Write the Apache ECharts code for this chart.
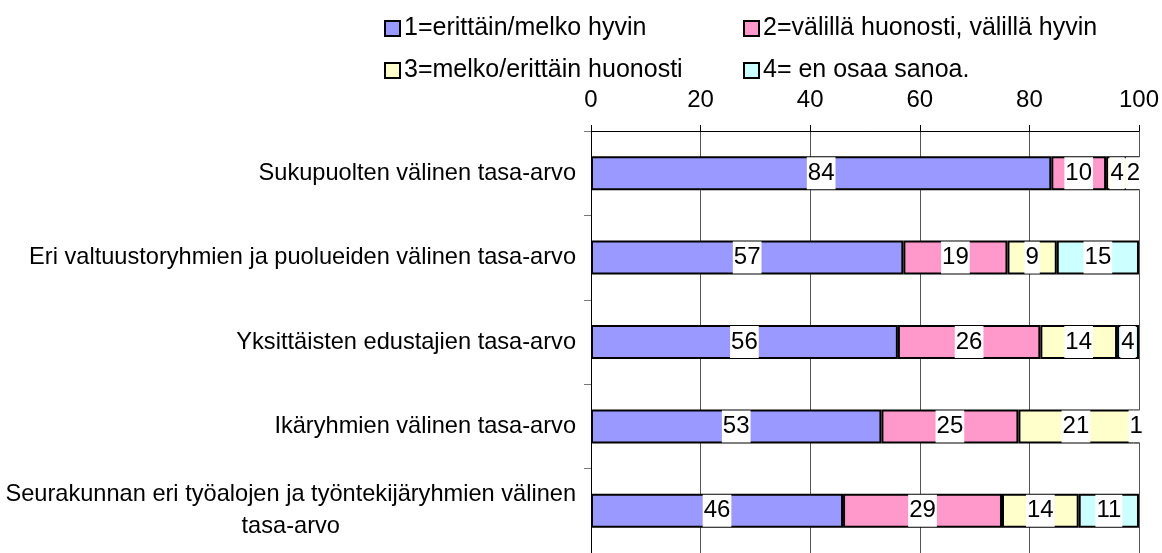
<!DOCTYPE html>
<html>
<head>
<meta charset="utf-8">
<script src="https://cdn.jsdelivr.net/npm/echarts@6/dist/echarts.min.js"></script>
<style>
  html, body { margin: 0; padding: 0; background: #fff; }
  #chart { width: 1162px; height: 553px; }
</style>
</head>
<body>
<div id="chart"></div>
<script>
const categories = [
  'Sukupuolten välinen tasa-arvo',
  'Eri valtuustoryhmien ja puolueiden välinen tasa-arvo',
  'Yksittäisten edustajien tasa-arvo',
  'Ikäryhmien välinen tasa-arvo',
  'Seurakunnan eri työalojen ja työntekijäryhmien välinen\ntasa-arvo'
]
const seriesNames = [
  '1=erittäin/melko hyvin',
  '2=välillä huonosti, välillä hyvin',
  '3=melko/erittäin huonosti',
  '4= en osaa sanoa.'
]
const good = [84, 57, 56, 53, 46]
const mixed = [10, 19, 26, 25, 29]
const bad = [4, 9, 14, 21, 14]
const dontKnow = [2, 15, 4, 1, 11]
const xMin = 0
const xMax = 100
const xStep = 20

const colors = ['#9999FF', '#FF99CC', '#FFFFCC', '#CCFFFF']
const font = '"Liberation Sans", Arial, Helvetica, sans-serif'
const values = [good, mixed, bad, dontKnow]

// legend placed as a 2x2 block, one legend per item
const legendPos = [[384, 16], [743, 16], [384, 58], [743, 58]]

let chart = echarts.init(document.getElementById('chart'))
chart.setOption({
  animation: false,
  textStyle: { fontFamily: font },
  legend: seriesNames.map((name, i) => ({
    data: [name],
    left: legendPos[i][0],
    top: legendPos[i][1],
    padding: 0,
    icon: 'rect',
    itemWidth: 15,
    itemHeight: 15,
    itemGap: 0,
    selectedMode: false,
    textStyle: { fontSize: 25, color: '#000', fontFamily: font, padding: [0, 0, 0, -1] }
  })),
  grid: {
    left: 591,
    right: 21,
    top: 131,
    bottom: -7
  },
  xAxis: {
    type: 'value',
    position: 'top',
    min: xMin,
    max: xMax,
    interval: xStep,
    axisLine: { show: true, lineStyle: { color: '#000', width: 1 } },
    axisTick: { show: true, length: 6, lineStyle: { color: '#000' } },
    axisLabel: { fontSize: 24, color: '#000', margin: 19, fontFamily: font },
    splitLine: { show: true, lineStyle: { color: '#555', width: 1 } }
  },
  yAxis: {
    type: 'category',
    inverse: true,
    data: categories,
    axisLine: { show: true, lineStyle: { color: '#000', width: 1 } },
    axisTick: { show: true, length: 7, lineStyle: { color: '#777' } },
    axisLabel: {
      margin: 15,
      color: '#000',
      fontFamily: font,
      formatter: v => v.split('\n').map(s => '{c|' + s + '}').join('\n'),
      rich: {
        c: { fontSize: 23.6, lineHeight: 32, align: 'center', color: '#000', fontFamily: font }
      }
    }
  },
  series: seriesNames.map((name, i) => ({
    name: name,
    type: 'bar',
    stack: 'total',
    barWidth: 34,
    data: values[i],
    itemStyle: { color: colors[i], borderColor: '#000', borderWidth: 2 },
    label: {
      show: true,
      position: 'inside',
      color: '#000',
      fontSize: 24,
      fontFamily: font,
      lineHeight: 26,
      backgroundColor: '#fff',
      padding: [3, 1]
    }
  }))
})
</script>
</body>
</html>
